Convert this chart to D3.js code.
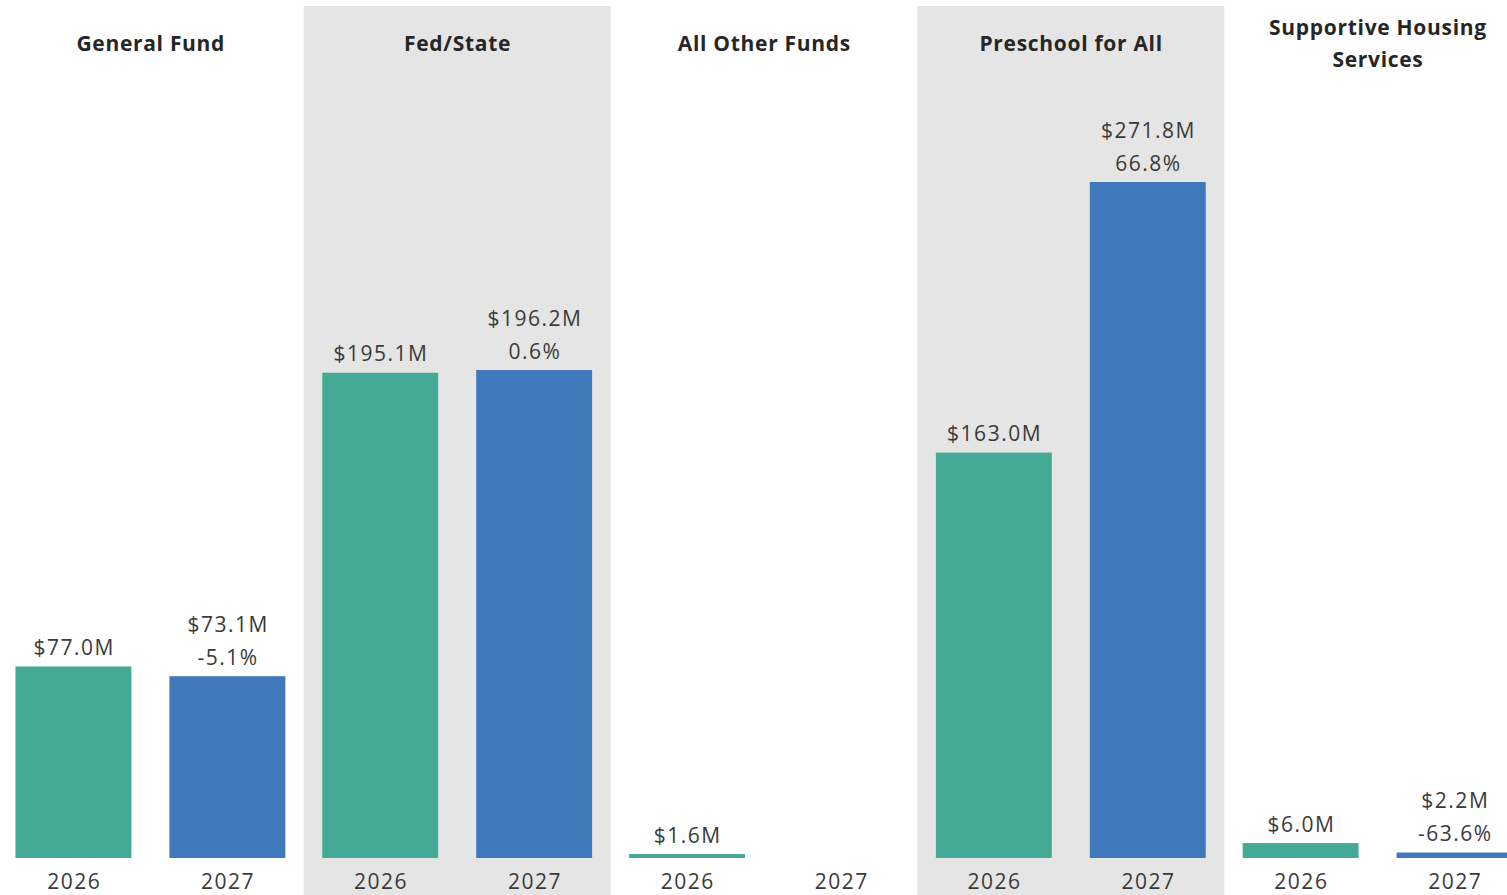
<!DOCTYPE html>
<html>
<head>
<meta charset="utf-8">
<script src="https://cdn.jsdelivr.net/npm/d3@7"></script>
<style>
  html, body { margin: 0; padding: 0; background: #ffffff; }
  svg { display: block; }
</style>
</head>
<body>
<svg id="chart" width="1507" height="895"></svg>
<script>
// ---- Data ----
const funds = ["General Fund", "Fed/State", "All Other Funds", "Preschool for All", "Supportive Housing Services"];
const fundTitleLines = [["General Fund"], ["Fed/State"], ["All Other Funds"], ["Preschool for All"], ["Supportive Housing", "Services"]];
const years = ["2026", "2027"];
const values2026 = [77.0, 195.1, 1.6, 163.0, 6.0];
const values2027 = [73.1, 196.2, 0, 271.8, 2.2];
const labels2026 = ["$77.0M", "$195.1M", "$1.6M", "$163.0M", "$6.0M"];
const labels2027 = ["$73.1M", "$196.2M", "", "$271.8M", "$2.2M"];
const changes2027 = ["-5.1%", "0.6%", "", "66.8%", "-63.6%"];
const shadedPanels = [false, true, false, true, false];

// ---- Layout ----
const W = 1507, H = 895;
const svg = d3.select("#chart");
const colors = { "2026": "#44a995", "2027": "#3f78bb" };
const textColor = "#3a3a3a";
const titleColor = "#262626";
const font = "'Open Sans', 'Liberation Sans', sans-serif";

const panelX = d3.scaleBand().domain(funds).range([-3, -3 + 306.8 * 5]).padding(0);
const yearX = d3.scaleBand().domain(years).range([0, panelX.bandwidth()])
  .paddingInner(0.247).paddingOuter(0.12);
const baseline = 858;
const y = d3.scaleLinear().domain([0, 271.8]).range([baseline, 182]);

function addText(g, x, yy, t, size, spacing, weight, color) {
  g.append("text").attr("x", x + spacing / 2).attr("y", yy)
    .attr("text-anchor", "middle").attr("font-family", font)
    .attr("font-weight", weight).attr("font-size", size)
    .attr("letter-spacing", spacing)
    .attr("fill", color).text(t);
}

funds.forEach((f, i) => {
  const g = svg.append("g").attr("transform", `translate(${panelX(f)},0)`);
  if (shadedPanels[i]) {
    g.append("rect").attr("x", 0).attr("y", 6)
      .attr("width", panelX.bandwidth()).attr("height", H - 6)
      .attr("fill", "#e5e5e5");
  }
  // title
  const lines = fundTitleLines[i];
  const titleY = lines.length === 1 ? 51 : 35;
  lines.forEach((ln, k) => {
    addText(g, panelX.bandwidth() / 2, titleY + k * 32, ln, 21, 0.7, "bold", titleColor);
  });
  const vals = [values2026[i], values2027[i]];
  const labs = [[labels2026[i]], labels2027[i] ? [labels2027[i], changes2027[i]] : []];
  years.forEach((yr, j) => {
    const v = vals[j];
    const bx = yearX(yr), bw = yearX.bandwidth();
    if (v > 0) {
      g.append("rect").attr("x", bx).attr("y", y(v))
        .attr("width", bw).attr("height", baseline - y(v))
        .attr("fill", colors[yr]);
    }
    const ll = labs[j];
    ll.forEach((t, k) => {
      addText(g, bx + bw / 2, y(v) - 11.5 - (ll.length - 1 - k) * 33, t, 21, 1.5, "500", textColor);
    });
    addText(g, bx + bw / 2, 888.5, yr, 21, 1.5, "500", textColor);
  });
});
</script>
</body>
</html>
